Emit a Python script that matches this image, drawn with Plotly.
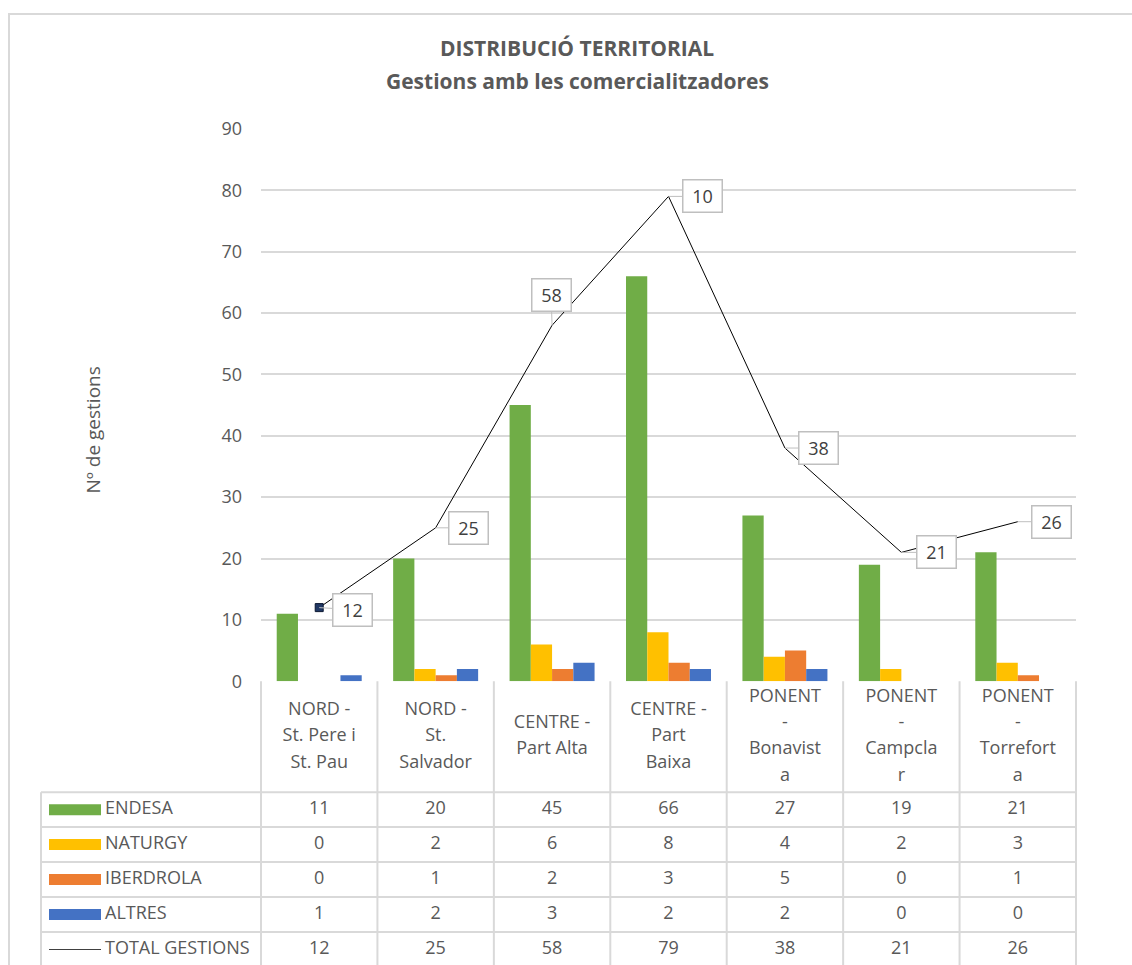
import plotly.graph_objects as go

# ---------------- data ----------------
categories = [
    "NORD - St. Pere i St. Pau",
    "NORD - St. Salvador",
    "CENTRE - Part Alta",
    "CENTRE - Part Baixa",
    "PONENT - Bonavista",
    "PONENT - Campclar",
    "PONENT - Torrefort",
]
category_lines = [
    ["NORD -", "St. Pere i", "St. Pau"],
    ["NORD -", "St.", "Salvador"],
    ["CENTRE -", "Part Alta"],
    ["CENTRE -", "Part", "Baixa"],
    ["PONENT", "-", "Bonavist", "a"],
    ["PONENT", "-", "Campcla", "r"],
    ["PONENT", "-", "Torrefort", "a"],
]
series_names = ["ENDESA", "NATURGY", "IBERDROLA", "ALTRES"]
endesa = [11, 20, 45, 66, 27, 19, 21]
naturgy = [0, 2, 6, 8, 4, 2, 3]
iberdrola = [0, 1, 2, 3, 5, 0, 1]
altres = [1, 2, 3, 2, 2, 0, 0]
total_name = "TOTAL GESTIONS"
total = [12, 25, 58, 79, 38, 21, 26]
total_labels = ["12", "25", "58", "10", "38", "21", "26"]
y_ticks = [0, 10, 20, 30, 40, 50, 60, 70, 80, 90]
title_line1 = "DISTRIBUCIÓ TERRITORIAL"
title_line2 = "Gestions amb les comercialitzadores"
y_title = "Nº de gestions"

# ---------------- style / layout ----------------
series_values = [endesa, naturgy, iberdrola, altres]
series_colors = ["#70ad47", "#ffc000", "#ed7d31", "#4472c4"]
TXT = "#595959"
GRID = "#d9d9d9"
FONT = "Open Sans"

W, H = 1132, 977
# vertical calibration of the photographed page
SY, OY = 0.9765, 12.0


def V(py):  # target screen y -> figure y
    return (py - OY) / SY


PLOT_L, PLOT_R = 261, 1076
PLOT_T, PLOT_B = V(128), V(681)
COLW = (PLOT_R - PLOT_L) / len(categories)
ROWS_TOP, ROW_H = V(792), 35 / SY
TBL_L = 41


def fx(px):
    return px / W


def fy(px):
    return 1 - px / H


def tx(px):  # pixel -> table x units (category index)
    return (px - PLOT_L) / COLW - 0.5


def ty(px):  # figure pixel -> table row units
    return (px - ROWS_TOP) / ROW_H - 0.5


fig = go.Figure()

# bars
for name, vals, col in zip(series_names, series_values, series_colors):
    fig.add_trace(go.Bar(
        x=categories, y=vals, name=name, marker=dict(color=col, line=dict(width=0)),
        hoverinfo="skip", showlegend=False,
    ))

# total line
fig.add_trace(go.Scatter(
    x=categories, y=total, mode="lines", line=dict(color="#000000", width=1),
    hoverinfo="skip", showlegend=False,
))
fig.add_trace(go.Scatter(
    x=categories[:1], y=total[:1], mode="markers",
    marker=dict(symbol="square", size=8, color="#203864", line=dict(color="#0b1730", width=1)),
    hoverinfo="skip", showlegend=False,
))

# callout labels
callout_offsets = [(33, 2), (33, 0), (-1, -30), (34, 0), (34, 0), (35, 0), (34, 0)]
for cat, v, lab, (ax, ay) in zip(categories, total, total_labels, callout_offsets):
    fig.add_annotation(
        x=cat, y=v, xref="x", yref="y", text=lab, showarrow=True,
        ax=ax, ay=ay, arrowhead=0, arrowwidth=1, arrowcolor="#bfbfbf",
        bgcolor="white", bordercolor="#bfbfbf", borderwidth=1.5, borderpad=3,
        width=32, height=25, font=dict(family=FONT, size=18, color="#404040"),
    )

# ---------------- table (subplot x2/y2) ----------------
n_cat = len(categories)
hx, hy, ht = [], [], []
head_c = ty((PLOT_B + ROWS_TOP) / 2)
line_step = 26.5 / 35
for i, lines in enumerate(category_lines):
    n = len(lines)
    for k, s in enumerate(lines):
        hx.append(i)
        hy.append(head_c + (k - (n - 1) / 2) * line_step)
        ht.append(s)
fig.add_trace(go.Scatter(
    x=hx, y=hy, text=ht, mode="text", textposition="middle center",
    textfont=dict(family=FONT, size=18, color=TXT), xaxis="x2", yaxis="y2",
    hoverinfo="skip", showlegend=False, cliponaxis=False,
))

all_rows = series_values + [total]
all_names = series_names + [total_name]
vx, vy, vt = [], [], []
for r, vals in enumerate(all_rows):
    for i, v in enumerate(vals):
        vx.append(i)
        vy.append(r)
        vt.append(str(v))
fig.add_trace(go.Scatter(
    x=vx, y=vy, text=vt, mode="text", textposition="middle center",
    textfont=dict(family=FONT, size=18, color=TXT), xaxis="x2", yaxis="y2",
    hoverinfo="skip", showlegend=False, cliponaxis=False,
))
fig.add_trace(go.Scatter(
    x=[tx(105)] * len(all_names), y=list(range(len(all_names))), text=all_names,
    mode="text", textposition="middle right",
    textfont=dict(family=FONT, size=18, color=TXT), xaxis="x2", yaxis="y2",
    hoverinfo="skip", showlegend=False, cliponaxis=False,
))

shapes = []
# legend swatches
sw_h = 5.5 / 35
for r, col in enumerate(series_colors):
    shapes.append(dict(type="rect", xref="x2", yref="y2", x0=tx(49), x1=tx(101),
                       y0=r - sw_h, y1=r + sw_h, fillcolor=col, line=dict(width=0)))
shapes.append(dict(type="line", xref="x2", yref="y2", x0=tx(49), x1=tx(101),
                   y0=len(series_names), y1=len(series_names),
                   line=dict(color="#404040", width=1.2)))
# table grid lines
bottom = ty(H + 30)
for j in range(n_cat + 1):
    shapes.append(dict(type="line", xref="x2", yref="y2", x0=j - 0.5, x1=j - 0.5,
                       y0=ty(PLOT_B), y1=bottom, line=dict(color=GRID, width=2)))
shapes.append(dict(type="line", xref="x2", yref="y2", x0=tx(TBL_L), x1=tx(TBL_L),
                   y0=-0.5, y1=bottom, line=dict(color=GRID, width=2)))
for r in range(len(all_rows) + 1):
    shapes.append(dict(type="line", xref="x2", yref="y2", x0=tx(TBL_L), x1=n_cat - 0.5,
                       y0=r - 0.5, y1=r - 0.5, line=dict(color=GRID, width=2)))
# chart outer border
shapes.append(dict(type="rect", xref="paper", yref="paper", x0=fx(9), x1=fx(W + 20),
                   y0=fy(H + 40), y1=fy(max(V(12), 1)), line=dict(color=GRID, width=2),
                   fillcolor="rgba(0,0,0,0)", layer="below"))

# titles
fig.add_annotation(text="<b>%s</b>" % title_line1, xref="paper", yref="paper",
                   x=fx(577), y=fy(V(47)), xanchor="center", yanchor="middle",
                   showarrow=False, font=dict(family=FONT, size=21, color=TXT))
fig.add_annotation(text="<b>%s</b>" % title_line2, xref="paper", yref="paper",
                   x=fx(577), y=fy(V(80)), xanchor="center", yanchor="middle",
                   showarrow=False, font=dict(family=FONT, size=21, color=TXT))
fig.add_annotation(text=y_title, xref="paper", yref="paper", x=fx(93), y=fy(V(430)),
                   xanchor="center", yanchor="middle", textangle=-90, showarrow=False,
                   font=dict(family=FONT, size=19, color=TXT))

fig.update_layout(
    width=W, height=H, margin=dict(l=0, r=0, t=0, b=0),
    paper_bgcolor="white", plot_bgcolor="rgba(0,0,0,0)",
    barmode="group", bargap=0.27, bargroupgap=0,
    font=dict(family=FONT, color=TXT),
    showlegend=False, shapes=shapes,
    xaxis=dict(domain=[fx(PLOT_L), fx(PLOT_R)], range=[-0.5, n_cat - 0.5],
               showticklabels=False, showgrid=False, zeroline=False, showline=False,
               fixedrange=True),
    yaxis=dict(domain=[fy(PLOT_B), fy(PLOT_T)], range=[0, 90], tickvals=y_ticks,
               showgrid=True, gridcolor=GRID, gridwidth=1.5, zeroline=False,
               showline=False, ticklabelstandoff=18,
               tickfont=dict(family=FONT, size=18, color=TXT), fixedrange=True),
    xaxis2=dict(domain=[fx(20), fx(1100)], range=[tx(20), tx(1100)], visible=False,
                fixedrange=True),
    yaxis2=dict(domain=[0, fy(PLOT_B - 10)], range=[ty(H), ty(PLOT_B - 10)],
                visible=False, fixedrange=True),
)

fig.write_html(
    "out.html",
    config={"displayModeBar": False},
    post_script="document.body.style.margin='0px';document.body.style.overflow='hidden';",
)
